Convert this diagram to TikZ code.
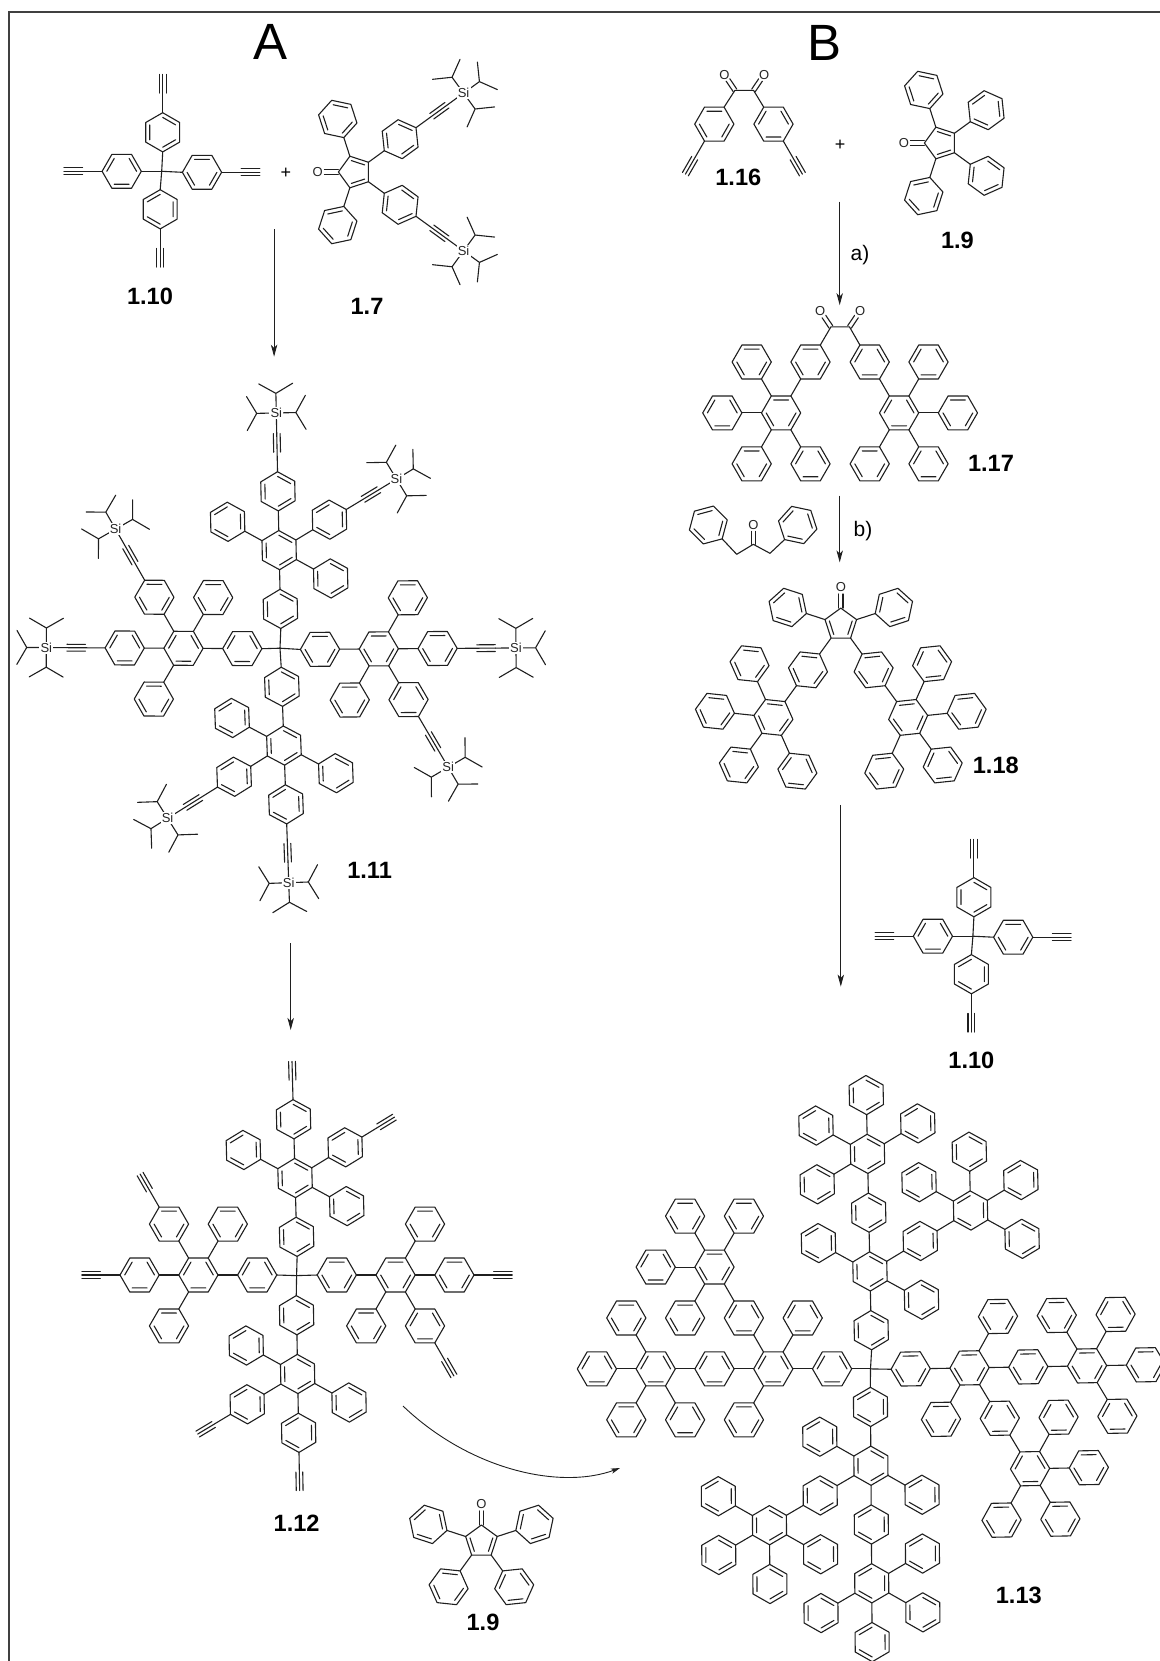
\documentclass[tikz,border=0pt]{standalone}
\usepackage{fontspec}
\setmainfont{Liberation Sans}
\usetikzlibrary{arrows.meta}
\newcounter{atomno}
\def\rr{19.6}\def\ri{14.9}\def\rb{39.2}\def\DD{58.8}\def\tipd{57.8}\def\tw{3.4}
\def\prad{16.6}\def\pinn{12.0}\def\hb{30}
\tikzset{
  bd/.style={draw=black!88,line width=0.55pt,line join=round,line cap=round},
  atom/.style={fill=white,inner sep=0.6pt,text=black!85,font=\fontsize{6.5pt}{7pt}\selectfont},
  cmpd/.style={inner sep=0pt,font=\fontsize{11.8pt}{13pt}\selectfont\bfseries},
  panel/.style={inner sep=0pt,anchor=base,font=\fontsize{25.5pt}{30pt}\selectfont},
  reag/.style={inner sep=0pt,font=\fontsize{10.5pt}{12pt}\selectfont},
  plusn/.style={inner sep=0pt,font=\fontsize{9pt}{10pt}\selectfont},
  rxn/.style={draw=black!88,line width=0.5pt,-{Stealth[length=6pt,width=3.2pt,inset=1.6pt]}},
  rxnc/.style={draw=black!88,line width=0.45pt,-{Stealth[length=4.5pt,width=2.6pt,inset=1.2pt]}},
  frame/.style={draw=black!75,line width=0.85pt}
}
% benzene ring at the local origin; #1 = 0 or 1 picks the set of inner double bonds
\newcommand\hexring[1]{%
  \draw[bd] (\hb:\rr)--(\hb+60:\rr)--(\hb+120:\rr)--(\hb+180:\rr)--(\hb+240:\rr)--(\hb+300:\rr)--cycle;
  \draw[bd] (\hb+60*#1:\ri)--(\hb+60*#1+60:\ri) (\hb+60*#1+120:\ri)--(\hb+60*#1+180:\ri) (\hb+60*#1+240:\ri)--(\hb+60*#1+300:\ri);}
% ring joined in direction #1, phase #2, with further substituents #3
\newcommand\toring[3]{%
  \draw[bd] (#1:\rr)--(#1:\rb);
  \begin{scope}[shift={(#1:\DD)}]\hexring{#2}#3\end{scope}}
\newcommand\Ph[2]{\toring{#1}{#2}{}}
% terminal alkyne from the ring vertex in direction #1
\newcommand\alk[1]{%
  \begin{scope}[rotate=#1]
    \draw[bd] (\rr,0)--(\rb,0) (\rb,0)--(\tipd,0) (\rb,\tw)--(\tipd,\tw) (\rb,-\tw)--(\tipd,-\tw);
  \end{scope}}
\newcommand\ipr[1]{\draw[bd] (0,0)--(#1:\rr)--++(#1+60:\rr) (#1:\rr)--++(#1-60:\rr);}
% alkyne carrying a triisopropylsilyl group
\newcommand\tips[1]{%
  \alk{#1}%
  \begin{scope}[rotate=#1]
    \draw[bd] (\tipd,0)--(78.4,0);
    \begin{scope}[shift={(78.4,0)}]
      \ipr{90}\ipr{0}\ipr{-90}
      \stepcounter{atomno}\node[atom] (a\arabic{atomno}) at (0,0) {Si};
    \end{scope}
  \end{scope}}
% C=O group from the local origin in direction #1, length to the O centre #2
\newcommand\keto[2]{%
  \begin{scope}[rotate=#1]
    \draw[bd] (0,2.2)--(#2-6.5,2.2) (0,-2.2)--(#2-6.5,-2.2);
    \stepcounter{atomno}\node[atom,inner sep=0pt] (a\arabic{atomno}) at (#2,0) {O};
  \end{scope}}
% cyclopentadienone with O towards local 180
\newcommand\cpcore{%
  \draw[bd] (180:\prad)--(108:\prad)--(36:\prad)--(-36:\prad)--(-108:\prad)--cycle;
  \draw[bd] (108:\pinn)--(36:\pinn) (-36:\pinn)--(-108:\pinn);
  \begin{scope}[shift={(180:\prad)}]\keto{180}{20.6}\end{scope}}
\newcommand\cpsub[3]{%
  \draw[bd] (#1:\prad)--(#1:\prad+\rr);
  \begin{scope}[shift={(#1:\prad+\rb)}]\def\hb{#1}\hexring{#2}#3\end{scope}}
% tetraphenylmethane core piece
\newcommand\tetra[2]{%
  \begin{scope}[shift={(#1,-#2)}]
    \coordinate (C) at (0,0);
    \begin{scope}[shift={(1,39)}]\def\hb{30}\hexring{0}\draw[bd] (-90:\rr)--(C);\alk{90}\end{scope}
    \begin{scope}[shift={(-1.5,-38)}]\def\hb{30}\hexring{1}\draw[bd] (90:\rr)--(C);\alk{-90}\end{scope}
    \begin{scope}[shift={(-40,0)}]\def\hb{0}\hexring{0}\draw[bd] (0:\rr)--(C);\alk{180}\end{scope}
    \begin{scope}[shift={(40.3,-1)}]\def\hb{0}\hexring{1}\draw[bd] (180:\rr)--(C);\alk{0}\end{scope}
  \end{scope}}
% four arms of the first generation; \capp is \alk or \tips
\newcommand\armUp[3]{\begin{scope}[shift={(#1,-#2)},rotate=#3]\def\hb{30}\hexring{0}\draw[bd] (-90:\rr)--(C);
  \toring{90}{0}{\toring{90}{0}{\capp{90}}\toring{30}{1}{\capp{30}}\Ph{-30}{0}\Ph{150}{1}}\end{scope}}
\newcommand\armDown[3]{\begin{scope}[shift={(#1,-#2)},rotate=#3]\def\hb{30}\hexring{0}\draw[bd] (90:\rr)--(C);
  \toring{-90}{0}{\toring{-90}{1}{\capp{-90}}\toring{-150}{1}{\capp{-150}}\Ph{150}{1}\Ph{-30}{0}}\end{scope}}
\newcommand\armRight[3]{\begin{scope}[shift={(#1,-#2)},rotate=#3]\def\hb{0}\hexring{1}\draw[bd] (180:\rr)--(C);
  \toring{0}{1}{\toring{0}{1}{\capp{0}}\toring{-60}{0}{\capp{-60}}\Ph{60}{1}\Ph{-120}{1}}\end{scope}}
\newcommand\armLeft[3]{\begin{scope}[shift={(#1,-#2)},rotate=#3]\def\hb{0}\hexring{0}\draw[bd] (0:\rr)--(C);
  \toring{180}{0}{\toring{180}{0}{\capp{180}}\toring{120}{1}{\capp{120}}\Ph{60}{1}\Ph{-120}{1}}\end{scope}}
% 1,2-diketone bridge
\newcommand\dket[4]{%
  \begin{scope}[shift={(#1,-#2)}]
    \coordinate (kl) at (-9.3,0);\coordinate (kr) at (9.3,0);
    \draw[bd] (#3)--(kl)--(kr)--(#4);
    \begin{scope}[shift={(kl)}]\keto{124}{19}\end{scope}
    \begin{scope}[shift={(kr)}]\keto{56}{19}\end{scope}
  \end{scope}}
\begin{document}
\begin{tikzpicture}[x=0.5pt,y=0.5pt]
\useasboundingbox (0,0) rectangle (1160,-1661);
\coordinate (fa) at (9,-1661);\coordinate (fb) at (9,-12);\coordinate (fc) at (1160,-12);
\draw[frame] (fa)--(fb)--(fc);
\node[panel] (pA) at (271,-59) {A};
\node[panel] (pB) at (824,-60) {B};
% --- 1.10 top left
\tetra{161.7}{171.3}
\node[plusn] (plusA) at (286,-173.3) {+};
% --- 1.7
\begin{scope}[shift={(355,-172)}]
  \cpcore
  \cpsub{108}{1}{}
  \cpsub{-108}{1}{}
  \cpsub{36}{0}{\tips{36}}
  \cpsub{-36}{1}{\tips{-36}}
\end{scope}
\node[cmpd] (l10a) at (150,-296.5) {1.10};
\node[cmpd] (l7) at (367,-306) {1.7};
\coordinate (a1s) at (274.1,-229.3);\coordinate (a1e) at (274.1,-356.7);
\draw[rxn] (a1s)--(a1e);
% --- 1.11
\let\capp\tips
\coordinate (C) at (280,-648.2);
\armUp{280.4}{608.9}{1.2}
\armDown{281.9}{686.8}{2}
\armRight{320}{649.3}{0.4}
\armLeft{242.3}{648.6}{-0.3}
\node[cmpd] (l11) at (369.6,-870.5) {1.11};
\coordinate (a2s) at (290.7,-943);\coordinate (a2e) at (290.7,-1030);
\draw[rxn] (a2s)--(a2e);
% --- 1.12
\let\capp\alk
\coordinate (C) at (296.6,-1275.6);
\armUp{296.6}{1236.8}{1.5}
\armDown{296.6}{1315.2}{1}
\armRight{336.8}{1275}{0}
\armLeft{257.2}{1275}{0}
\node[cmpd] (l12) at (296.6,-1523) {1.12};
% --- 1.9 bottom
\begin{scope}[shift={(481.4,-1541.6)},rotate=-90]
  \cpcore
  \cpsub{108}{0}{}\cpsub{-108}{1}{}\cpsub{36}{1}{}\cpsub{-36}{1}{}
\end{scope}
\node[cmpd] (l9b) at (483,-1622) {1.9};
\coordinate (a3s) at (403,-1406);\coordinate (a3e) at (620,-1468);
\draw[rxnc] (a3s) .. controls (470,-1470) and (560,-1490) .. (a3e);
% --- 1.16
\begin{scope}[shift={(714.3,-124.1)}]\def\hb{0}\hexring{1}\alk{-120}\coordinate (v1) at (60:\rr);\end{scope}
\begin{scope}[shift={(773.5,-124.1)}]\def\hb{0}\hexring{0}\alk{-60}\coordinate (v2) at (120:\rr);\end{scope}
\dket{744.25}{90.3}{v1}{v2}
\node[cmpd] (l16) at (738.3,-177.5) {1.16};
\node[plusn] (plusB) at (840,-144.8) {+};
% --- 1.9 top
\begin{scope}[shift={(941,-143)}]
  \cpcore
  \cpsub{108}{1}{}\cpsub{-108}{1}{}\cpsub{36}{1}{}\cpsub{-36}{1}{}
\end{scope}
\node[cmpd] (l9a) at (957.4,-240) {1.9};
\coordinate (b1s) at (839.7,-201.7);\coordinate (b1e) at (839.7,-305.2);
\draw[rxn] (b1s)--(b1e);
\node[reag] (ra) at (860,-255) {a)};
% --- 1.17
\begin{scope}[shift={(810.5,-362)}]\def\hb{0}\hexring{1}\coordinate (v1) at (60:\rr);
  \toring{-120}{1}{\Ph{120}{1}\Ph{180}{0}\Ph{-120}{1}\Ph{-60}{0}}\end{scope}
\begin{scope}[shift={(869.7,-362)}]\def\hb{0}\hexring{0}\coordinate (v2) at (120:\rr);
  \toring{-60}{0}{\Ph{60}{0}\Ph{0}{1}\Ph{-60}{0}\Ph{-120}{1}}\end{scope}
\dket{840.2}{326.9}{v1}{v2}
\node[cmpd] (l17) at (991,-463.5) {1.17};
\coordinate (b2s) at (839.7,-495.5);\coordinate (b2e) at (839.7,-562.4);
\draw[rxn] (b2s)--(b2e);
\node[reag] (rb) at (863,-531) {b)};
% --- dibenzyl ketone
\begin{scope}[shift={(708.3,-525)}]\def\hb{15}\hexring{1}\coordinate (w1) at (-45:\rr);\end{scope}
\begin{scope}[shift={(797.7,-525)}]\def\hb{48}\hexring{1}\coordinate (w2) at (228:\rr);\end{scope}
\coordinate (ch1) at (736.7,-554.3);\coordinate (ck) at (753.3,-544.3);\coordinate (ch2) at (770,-553.3);
\draw[bd] (w1)--(ch1)--(ck)--(ch2)--(w2);
\begin{scope}[shift={(ck)}]\keto{90}{19.3}\end{scope}
% --- 1.18
\begin{scope}[shift={(840.8,-624.7)},rotate=-90]
  \cpcore
  \cpsub{108}{0}{}\cpsub{-108}{1}{}
  \cpsub{-36}{1}{\toring{-36}{1}{\Ph{204}{1}\Ph{264}{1}\Ph{-36}{1}\Ph{24}{0}}}
  \cpsub{36}{0}{\toring{36}{0}{\Ph{156}{1}\Ph{96}{0}\Ph{36}{1}\Ph{-24}{0}}}
\end{scope}
\node[cmpd] (l18) at (995.8,-765) {1.18};
\coordinate (b3s) at (840.8,-804.8);\coordinate (b3e) at (840.8,-986.6);
\draw[rxn] (b3s)--(b3e);
% --- 1.10 right
\tetra{972.9}{936.2}
\node[cmpd] (l10b) at (971.4,-1060.5) {1.10};
% --- 1.13
\coordinate (C) at (870.5,-1368.9);
\begin{scope}[shift={(871.2,-1330.2)},rotate=1.2]\def\hb{30}\hexring{0}\draw[bd] (-90:\rr)--(C);
  \toring{90}{0}{\Ph{150}{1}\Ph{-30}{0}
    \toring{30}{1}{\toring{30}{1}{\Ph{150}{1}\Ph{90}{0}\Ph{30}{1}\Ph{-30}{0}}}
    \toring{90}{0}{\toring{90}{0}{\Ph{150}{1}\Ph{90}{0}\Ph{30}{1}\Ph{-150}{0}}}}
\end{scope}
\begin{scope}[shift={(910.7,-1368.9)},rotate=1]\def\hb{0}\hexring{1}\draw[bd] (180:\rr)--(C);
  \toring{0}{1}{\Ph{60}{1}\Ph{-120}{1}
    \toring{0}{1}{\toring{0}{1}{\Ph{120}{1}\Ph{60}{0}\Ph{0}{1}\Ph{-60}{0}}}
    \toring{-60}{0}{\toring{-60}{0}{\Ph{60}{0}\Ph{0}{1}\Ph{-60}{1}\Ph{-120}{1}}}}
\end{scope}
\begin{scope}[shift={(832.1,-1368.9)}]\def\hb{0}\hexring{0}\draw[bd] (0:\rr)--(C);
  \toring{180}{0}{\Ph{60}{0}\Ph{-120}{1}
    \toring{120}{0}{\toring{120}{1}{\Ph{60}{1}\Ph{120}{1}\Ph{180}{0}\Ph{-120}{1}}}
    \toring{180}{0}{\toring{180}{0}{\Ph{120}{1}\Ph{180}{0}\Ph{-120}{1}\Ph{-60}{0}}}}
\end{scope}
\begin{scope}[shift={(870.5,-1406.9)},rotate=0.4]\def\hb{30}\hexring{1}\draw[bd] (90:\rr)--(C);
  \toring{-90}{0}{\Ph{150}{1}\Ph{-30}{1}
    \toring{-150}{0}{\toring{-150}{0}{\Ph{150}{1}\Ph{-150}{0}\Ph{-90}{0}\Ph{-30}{1}}}
    \toring{-90}{1}{\toring{-90}{1}{\Ph{30}{1}\Ph{-30}{0}\Ph{-90}{1}\Ph{-150}{0}}}}
\end{scope}
\node[cmpd] (l13) at (1018.8,-1595.8) {1.13};
\end{tikzpicture}
\end{document}
